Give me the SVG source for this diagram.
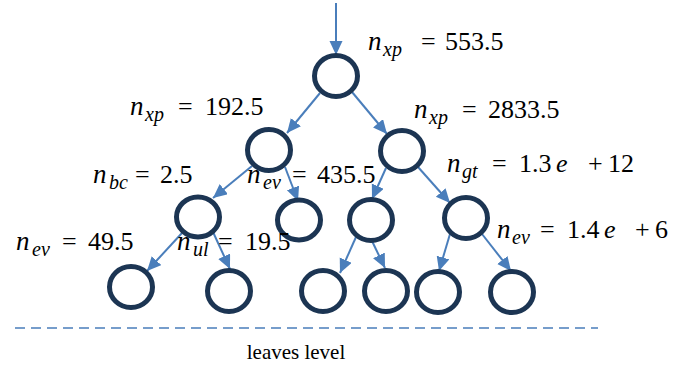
<svg xmlns="http://www.w3.org/2000/svg" width="683" height="369" viewBox="0 0 683 369">
<style>
.node{fill:#fff;stroke:#1c3553;stroke-width:5}
.edge{stroke:#4a7ebb;stroke-width:2;fill:none;marker-end:url(#ah)}
</style>
<defs>
<marker id="ah" markerUnits="userSpaceOnUse" markerWidth="16" markerHeight="14" refX="14" refY="6.5" orient="auto">
<path d="M0,0 L14,6.5 L0,13 Z" fill="#4a7ebb"/>
</marker>
</defs>
<rect width="683" height="369" fill="#fff"/>
<g id="connectors">
<line class="edge" x1="336" y1="3" x2="336" y2="55"/>
<line class="edge" x1="320" y1="93" x2="287" y2="133"/>
<line class="edge" x1="352" y1="92" x2="387" y2="134"/>
<line class="edge" x1="252" y1="166" x2="213" y2="198"/>
<line class="edge" x1="285" y1="167" x2="298" y2="201"/>
<line class="edge" x1="386" y1="168" x2="372" y2="199"/>
<line class="edge" x1="418" y1="167" x2="450" y2="203"/>
<line class="edge" x1="182" y1="233" x2="147" y2="271"/>
<line class="edge" x1="213" y1="232" x2="230" y2="269"/>
<line class="edge" x1="356" y1="237" x2="340" y2="273"/>
<line class="edge" x1="372" y1="241" x2="385" y2="268"/>
<line class="edge" x1="450" y1="234" x2="439" y2="271"/>
<line class="edge" x1="482" y1="234" x2="511" y2="271"/>
</g>
<g id="root"><ellipse class="node" cx="336" cy="76" rx="21.5" ry="20.5"/></g>
<g id="n-l"><ellipse class="node" cx="269" cy="150" rx="21.5" ry="20.5"/></g>
<g id="n-r"><ellipse class="node" cx="402" cy="151" rx="21.5" ry="20.5"/></g>
<g id="n-ll"><ellipse class="node" cx="198" cy="217" rx="21.5" ry="20"/></g>
<g id="n-lr"><ellipse class="node" cx="299" cy="220" rx="21.5" ry="20"/></g>
<g id="n-rl"><ellipse class="node" cx="371" cy="220" rx="21.5" ry="20.5"/></g>
<g id="n-rr"><ellipse class="node" cx="466" cy="218" rx="21.5" ry="20.5"/></g>
<g id="leaf1"><ellipse class="node" cx="131" cy="287" rx="21.5" ry="20.5"/></g>
<g id="leaf2"><ellipse class="node" cx="229" cy="291" rx="21.5" ry="20.5"/></g>
<g id="leaf3"><ellipse class="node" cx="323" cy="291" rx="21.5" ry="20.5"/></g>
<g id="leaf4"><ellipse class="node" cx="386" cy="291" rx="21.5" ry="20.5"/></g>
<g id="leaf5"><ellipse class="node" cx="438" cy="292" rx="21.5" ry="20.5"/></g>
<g id="leaf6"><ellipse class="node" cx="512" cy="292" rx="21.5" ry="20.5"/></g>
<text x="368" y="50" font-family="Liberation Serif" font-size="26" fill="#000"><tspan font-style="italic" font-size="27">n</tspan><tspan x="383" dy="6" font-style="italic" font-size="20">xp</tspan><tspan x="421" dy="-6">=</tspan><tspan x="445">553.5</tspan></text>
<text x="130" y="115" font-family="Liberation Serif" font-size="26" fill="#000"><tspan font-style="italic" font-size="27">n</tspan><tspan x="145" dy="6" font-style="italic" font-size="20">xp</tspan><tspan x="178" dy="-6">=</tspan><tspan x="205">192.5</tspan></text>
<text x="414" y="118" font-family="Liberation Serif" font-size="26" fill="#000"><tspan font-style="italic" font-size="27">n</tspan><tspan x="429" dy="6" font-style="italic" font-size="20">xp</tspan><tspan x="462" dy="-6">=</tspan><tspan x="488">2833.5</tspan></text>
<text x="93" y="183" font-family="Liberation Serif" font-size="26" fill="#000"><tspan font-style="italic" font-size="27">n</tspan><tspan x="109" dy="6" font-style="italic" font-size="20">bc</tspan><tspan x="135" dy="-6">=</tspan><tspan x="160">2.5</tspan></text>
<text x="247" y="183" font-family="Liberation Serif" font-size="26" fill="#000"><tspan font-style="italic" font-size="27">n</tspan><tspan x="263" dy="6" font-style="italic" font-size="20">ev</tspan><tspan x="292" dy="-6">=</tspan><tspan x="317">435.5</tspan></text>
<text x="447" y="172" font-family="Liberation Serif" font-size="26" fill="#000"><tspan font-style="italic" font-size="27">n</tspan><tspan x="462" dy="6" font-style="italic" font-size="20">gt</tspan><tspan x="492" dy="-6">=</tspan><tspan x="519">1.3</tspan><tspan x="556" font-style="italic">e</tspan><tspan x="588">+</tspan><tspan x="608">12</tspan></text>
<text x="497" y="238" font-family="Liberation Serif" font-size="26" fill="#000"><tspan font-style="italic" font-size="27">n</tspan><tspan x="512" dy="6" font-style="italic" font-size="20">ev</tspan><tspan x="540" dy="-6">=</tspan><tspan x="567">1.4</tspan><tspan x="604" font-style="italic">e</tspan><tspan x="635">+</tspan><tspan x="655">6</tspan></text>
<text x="16" y="250" font-family="Liberation Serif" font-size="26" fill="#000"><tspan font-style="italic" font-size="27">n</tspan><tspan x="32" dy="6" font-style="italic" font-size="20">ev</tspan><tspan x="62" dy="-6">=</tspan><tspan x="88">49.5</tspan></text>
<text x="177" y="250" font-family="Liberation Serif" font-size="26" fill="#000"><tspan font-style="italic" font-size="27">n</tspan><tspan x="193" dy="6" font-style="italic" font-size="20">ul</tspan><tspan x="218" dy="-6">=</tspan><tspan x="245">19.5</tspan></text>
<line x1="15" y1="328" x2="598" y2="328" stroke="#4a7ebb" stroke-width="1.5" stroke-dasharray="10 6"/>
<text x="296" y="359" text-anchor="middle" font-family="Liberation Serif" font-size="21" fill="#000">leaves level</text>
</svg>
